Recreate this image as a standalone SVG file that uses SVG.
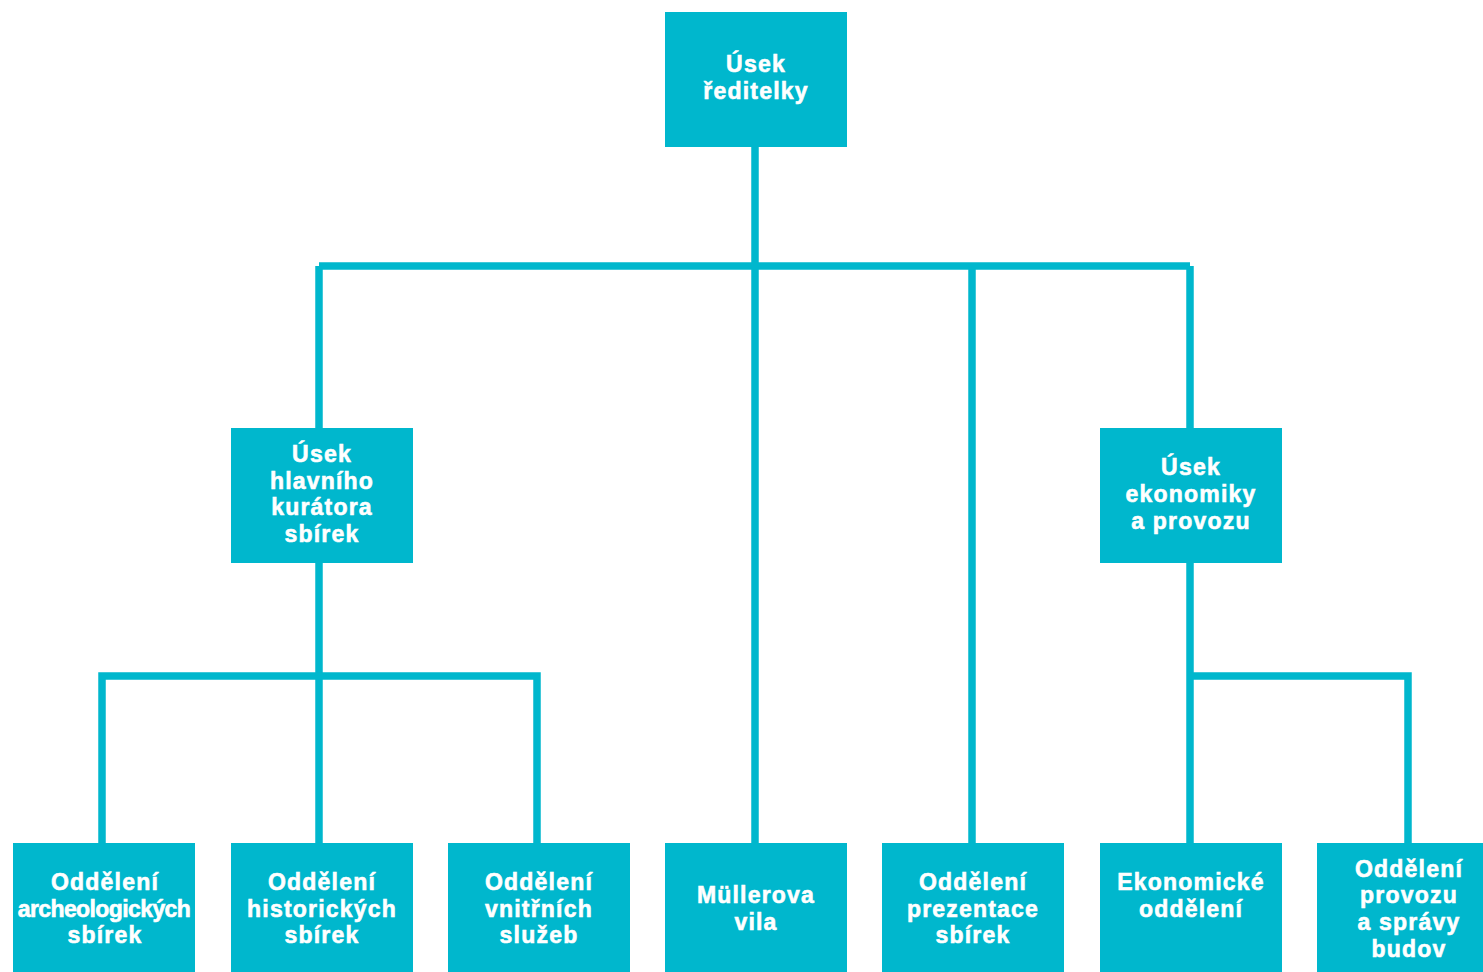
<svg xmlns="http://www.w3.org/2000/svg" width="1483" height="972" viewBox="0 0 1483 972">
<style>
.box{fill:#00B7CD}
.ln{stroke:#00B7CD;stroke-width:7.5;fill:none;stroke-linecap:butt}
text{font-family:"Liberation Sans",Arial,sans-serif;font-weight:bold;font-size:23px;fill:#fff;stroke:#fff;stroke-width:0.6;text-anchor:middle;letter-spacing:1.2px}
.tight{letter-spacing:-0.6px}
</style>
<rect width="1483" height="972" fill="#fff"/>
<g id="connectors">
<path class="ln" d="M755 147V843"/>
<path class="ln" d="M319 266H1190"/>
<path class="ln" d="M319 266V428"/>
<path class="ln" d="M972 266V843"/>
<path class="ln" d="M1190 266V428"/>
<path class="ln" d="M319 563V843"/>
<path class="ln" d="M102 843V676H537V843"/>
<path class="ln" d="M1190 563V843"/>
<path class="ln" d="M1190 676H1408V843"/>
</g>
<g id="n-reditelka">
<rect class="box" x="665" y="12" width="182" height="135"/>
<text x="756" y="72">Úsek</text>
<text x="756" y="99">ředitelky</text>
</g>
<g id="n-kurator">
<rect class="box" x="231" y="428" width="182" height="135"/>
<text x="322" y="462">Úsek</text>
<text x="322" y="489">hlavního</text>
<text x="322" y="515">kurátora</text>
<text x="322" y="542">sbírek</text>
</g>
<g id="n-ekonomika">
<rect class="box" x="1100" y="428" width="182" height="135"/>
<text x="1191" y="475">Úsek</text>
<text x="1191" y="502">ekonomiky</text>
<text x="1191" y="529">a provozu</text>
</g>
<g id="n-archeo">
<rect class="box" x="13" y="843" width="182" height="129"/>
<text x="105" y="890">Oddělení</text>
<text class="tight" x="104" y="917">archeologických</text>
<text x="105" y="943">sbírek</text>
</g>
<g id="n-hist">
<rect class="box" x="231" y="843" width="182" height="129"/>
<text x="322" y="890">Oddělení</text>
<text x="322" y="917">historických</text>
<text x="322" y="943">sbírek</text>
</g>
<g id="n-vnitrni">
<rect class="box" x="448" y="843" width="182" height="129"/>
<text x="539" y="890">Oddělení</text>
<text x="539" y="917">vnitřních</text>
<text x="539" y="943">služeb</text>
</g>
<g id="n-muller">
<rect class="box" x="665" y="843" width="182" height="129"/>
<text x="756" y="903">Müllerova</text>
<text x="756" y="930">vila</text>
</g>
<g id="n-prezentace">
<rect class="box" x="882" y="843" width="182" height="129"/>
<text x="973" y="890">Oddělení</text>
<text x="973" y="917">prezentace</text>
<text x="973" y="943">sbírek</text>
</g>
<g id="n-ekonom-odd">
<rect class="box" x="1100" y="843" width="182" height="129"/>
<text x="1191" y="890">Ekonomické</text>
<text x="1191" y="917">oddělení</text>
</g>
<g id="n-provoz">
<rect class="box" x="1317" y="843" width="166" height="129"/>
<text x="1409" y="877">Oddělení</text>
<text x="1409" y="903">provozu</text>
<text x="1409" y="930">a správy</text>
<text x="1409" y="957">budov</text>
</g>
</svg>
